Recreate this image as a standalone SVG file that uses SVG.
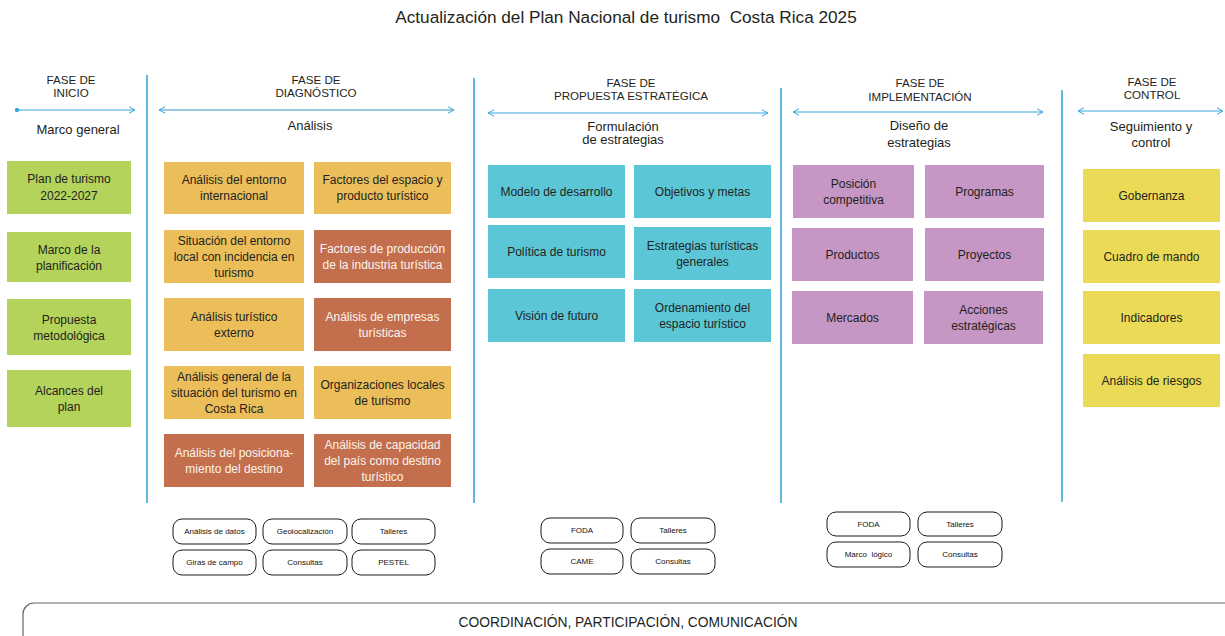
<svg xmlns="http://www.w3.org/2000/svg" width="1225" height="636" viewBox="0 0 1225 636">
<defs>
<marker id="chev" viewBox="0 0 8 8" refX="7" refY="4" markerWidth="8" markerHeight="8" markerUnits="userSpaceOnUse" orient="auto-start-reverse">
<path d="M1,0.8 L7,4 L1,7.2" fill="none" stroke="#3aa6dc" stroke-width="1"/>
</marker>
<marker id="dot" viewBox="0 0 6 6" refX="3" refY="3" markerWidth="5" markerHeight="5" markerUnits="userSpaceOnUse">
<circle cx="3" cy="3" r="2.6" fill="#3aa6dc"/>
</marker>
</defs>
<style>
text{font-family:"Liberation Sans",Arial,sans-serif;fill:#231f20;text-anchor:middle}
.title{font-size:17.2px}
.head{font-size:11.6px}
.sub{font-size:13px}
.bx{font-size:12px}
.wt{fill:#fbf5ee}
.green{fill:#b3d35a}
.ochre{fill:#ebbe5a}
.brown{fill:#c36e4c}
.cyan{fill:#5bc7d6}
.purple{fill:#c696c4}
.yellow{fill:#ebda55}
.pill{fill:#fff;stroke:#1a1a1a;stroke-width:1}
.pt{font-size:8px;fill:#111}
.vline{stroke:#3aa6dc;stroke-width:1.6}
.harr{stroke:#3aa6dc;stroke-width:1;fill:none}
.bar{fill:none;stroke:#666;stroke-width:1.2}
.bt{font-size:13.8px}
</style>
<rect width="1225" height="636" fill="#fff"/>
<text class="title" x="626" y="23" xml:space="preserve">Actualización del Plan Nacional de turismo  Costa Rica 2025</text>

<g id="headings">
<text class="head" x="71" y="84">FASE DE</text>
<text class="head" x="71" y="97">INICIO</text>
<text class="sub" x="78" y="134">Marco general</text>
<text class="head" x="316" y="84">FASE DE</text>
<text class="head" x="316" y="97">DIAGNÓSTICO</text>
<text class="sub" x="310" y="130">Análisis</text>
<text class="head" x="631" y="87">FASE DE</text>
<text class="head" x="631" y="100">PROPUESTA ESTRATÉGICA</text>
<text class="sub" x="623" y="131">Formulación</text>
<text class="sub" x="623" y="144">de estrategias</text>
<text class="head" x="920" y="87">FASE DE</text>
<text class="head" x="920" y="101">IMPLEMENTACIÓN</text>
<text class="sub" x="919" y="130">Diseño de</text>
<text class="sub" x="919" y="147">estrategias</text>
<text class="head" x="1152" y="86">FASE DE</text>
<text class="head" x="1152" y="99">CONTROL</text>
<text class="sub" x="1151" y="131">Seguimiento y</text>
<text class="sub" x="1151" y="147">control</text>
</g>

<g id="connectors">
<line class="vline" x1="147" y1="75" x2="147" y2="503"/>
<line class="vline" x1="474" y1="78" x2="474" y2="503"/>
<line class="vline" x1="781" y1="88" x2="781" y2="503"/>
<line class="vline" x1="1062" y1="90" x2="1062" y2="502"/>
<line class="harr" x1="17" y1="110" x2="135" y2="110" marker-start="url(#dot)" marker-end="url(#chev)"/>
<line class="harr" x1="159" y1="110" x2="454" y2="110" stroke-width="1.8" style="stroke:#3b8fc4" marker-start="url(#chev)" marker-end="url(#chev)"/>
<line class="harr" x1="488" y1="113" x2="768" y2="113" marker-start="url(#chev)" marker-end="url(#chev)"/>
<line class="harr" x1="793" y1="112" x2="1043" y2="112" marker-start="url(#chev)" marker-end="url(#chev)"/>
<line class="harr" x1="1078" y1="111" x2="1223" y2="111" marker-start="url(#chev)" marker-end="url(#chev)"/>
</g>

<g id="inicio">
<g id="n-plan"><rect class="green" x="7" y="161" width="124" height="53"/><text class="bx" x="69" y="183">Plan de turismo</text><text class="bx" x="69" y="200">2022-2027</text></g>
<g id="n-marco"><rect class="green" x="7" y="232" width="124" height="50"/><text class="bx" x="69" y="253.5">Marco de la</text><text class="bx" x="69" y="269.5">planificación</text></g>
<g id="n-propuesta"><rect class="green" x="7" y="299" width="124" height="56"/><text class="bx" x="69" y="323.5">Propuesta</text><text class="bx" x="69" y="339.5">metodológica</text></g>
<g id="n-alcances"><rect class="green" x="7" y="370" width="124" height="57"/><text class="bx" x="69" y="394.5">Alcances del</text><text class="bx" x="69" y="410.5">plan</text></g>
</g>

<g id="diagnostico">
<g id="n-d1"><rect class="ochre" x="164" y="162" width="140" height="52"/><text class="bx" x="234" y="184">Análisis del entorno</text><text class="bx" x="234" y="200">internacional</text></g>
<g id="n-d2"><rect class="ochre" x="314" y="162" width="137" height="52"/><text class="bx" x="382.5" y="184">Factores del espacio y</text><text class="bx" x="382.5" y="200">producto turístico</text></g>
<g id="n-d3"><rect class="ochre" x="164" y="230" width="140" height="53"/><text class="bx" x="234" y="245">Situación del entorno</text><text class="bx" x="234" y="261">local con incidencia en</text><text class="bx" x="234" y="277">turismo</text></g>
<g id="n-d4"><rect class="brown" x="314" y="230" width="137" height="53"/><text class="bx wt" x="382.5" y="252.5">Factores de producción</text><text class="bx wt" x="382.5" y="268.5">de la industria turística</text></g>
<g id="n-d5"><rect class="ochre" x="164" y="298" width="140" height="53"/><text class="bx" x="234" y="320.5">Análisis turístico</text><text class="bx" x="234" y="336.5">externo</text></g>
<g id="n-d6"><rect class="brown" x="314" y="298" width="137" height="53"/><text class="bx wt" x="382.5" y="320.5">Análisis de empresas</text><text class="bx wt" x="382.5" y="336.5">turísticas</text></g>
<g id="n-d7"><rect class="ochre" x="164" y="366" width="140" height="53"/><text class="bx" x="234" y="381">Análisis general de la</text><text class="bx" x="234" y="397">situación del turismo en</text><text class="bx" x="234" y="413">Costa Rica</text></g>
<g id="n-d8"><rect class="ochre" x="314" y="366" width="137" height="53"/><text class="bx" x="382.5" y="388.5">Organizaciones locales</text><text class="bx" x="382.5" y="404.5">de turismo</text></g>
<g id="n-d9"><rect class="brown" x="164" y="434" width="140" height="53"/><text class="bx wt" x="234" y="456.5">Análisis del posiciona-</text><text class="bx wt" x="234" y="472.5">miento del destino</text></g>
<g id="n-d10"><rect class="brown" x="314" y="434" width="137" height="53"/><text class="bx wt" x="382.5" y="449">Análisis de capacidad</text><text class="bx wt" x="382.5" y="465">del país como destino</text><text class="bx wt" x="382.5" y="481">turístico</text></g>
</g>

<g id="propuesta">
<g id="n-p1"><rect class="cyan" x="488" y="165" width="137" height="53"/><text class="bx" x="556.5" y="196">Modelo de desarrollo</text></g>
<g id="n-p2"><rect class="cyan" x="634" y="165" width="137" height="53"/><text class="bx" x="702.5" y="196">Objetivos y metas</text></g>
<g id="n-p3"><rect class="cyan" x="488" y="225" width="137" height="53"/><text class="bx" x="556.5" y="256">Política de turismo</text></g>
<g id="n-p4"><rect class="cyan" x="634" y="227" width="137" height="53"/><text class="bx" x="702.5" y="249.5">Estrategias turísticas</text><text class="bx" x="702.5" y="265.5">generales</text></g>
<g id="n-p5"><rect class="cyan" x="488" y="289" width="137" height="53"/><text class="bx" x="556.5" y="320">Visión de futuro</text></g>
<g id="n-p6"><rect class="cyan" x="634" y="289" width="137" height="53"/><text class="bx" x="702.5" y="311.5">Ordenamiento del</text><text class="bx" x="702.5" y="327.5">espacio turístico</text></g>
</g>

<g id="implementacion">
<g id="n-i1"><rect class="purple" x="793" y="165" width="121" height="53"/><text class="bx" x="853.5" y="187.5">Posición</text><text class="bx" x="853.5" y="203.5">competitiva</text></g>
<g id="n-i2"><rect class="purple" x="925" y="165" width="119" height="53"/><text class="bx" x="984.5" y="196">Programas</text></g>
<g id="n-i3"><rect class="purple" x="792" y="228" width="121" height="53"/><text class="bx" x="852.5" y="259">Productos</text></g>
<g id="n-i4"><rect class="purple" x="925" y="228" width="119" height="53"/><text class="bx" x="984.5" y="259">Proyectos</text></g>
<g id="n-i5"><rect class="purple" x="792" y="291" width="121" height="53"/><text class="bx" x="852.5" y="322">Mercados</text></g>
<g id="n-i6"><rect class="purple" x="924" y="291" width="119" height="53"/><text class="bx" x="983.5" y="313.5">Acciones</text><text class="bx" x="983.5" y="329.5">estratégicas</text></g>
</g>

<g id="control">
<g id="n-c1"><rect class="yellow" x="1083" y="169" width="137" height="53"/><text class="bx" x="1151.5" y="200">Gobernanza</text></g>
<g id="n-c2"><rect class="yellow" x="1083" y="230" width="137" height="53"/><text class="bx" x="1151.5" y="261">Cuadro de mando</text></g>
<g id="n-c3"><rect class="yellow" x="1083" y="291" width="137" height="53"/><text class="bx" x="1151.5" y="322">Indicadores</text></g>
<g id="n-c4"><rect class="yellow" x="1083" y="354" width="137" height="53"/><text class="bx" x="1151.5" y="385">Análisis de riesgos</text></g>
</g>

<g id="herramientas-diagnostico">
<g id="t-d1"><rect class="pill" x="173" y="519" width="83" height="25" rx="9"/><text class="pt" x="214.5" y="534.4">Análisis de datos</text></g>
<g id="t-d2"><rect class="pill" x="263" y="519" width="84" height="25" rx="9"/><text class="pt" x="305" y="534.4">Geolocalización</text></g>
<g id="t-d3"><rect class="pill" x="352" y="519" width="83" height="25" rx="9"/><text class="pt" x="393.5" y="534.4">Talleres</text></g>
<g id="t-d4"><rect class="pill" x="173" y="550" width="83" height="25" rx="9"/><text class="pt" x="214.5" y="565.4">Giras de campo</text></g>
<g id="t-d5"><rect class="pill" x="263" y="550" width="84" height="25" rx="9"/><text class="pt" x="305" y="565.4">Consultas</text></g>
<g id="t-d6"><rect class="pill" x="352" y="550" width="83" height="25" rx="9"/><text class="pt" x="393.5" y="565.4">PESTEL</text></g>
</g>

<g id="herramientas-propuesta">
<g id="t-p1"><rect class="pill" x="541" y="518" width="82" height="25" rx="9"/><text class="pt" x="582" y="533.4">FODA</text></g>
<g id="t-p2"><rect class="pill" x="631" y="518" width="84" height="25" rx="9"/><text class="pt" x="673" y="533.4">Talleres</text></g>
<g id="t-p3"><rect class="pill" x="541" y="549" width="82" height="25" rx="9"/><text class="pt" x="582" y="564.4">CAME</text></g>
<g id="t-p4"><rect class="pill" x="631" y="549" width="84" height="25" rx="9"/><text class="pt" x="673" y="564.4">Consultas</text></g>
</g>

<g id="herramientas-implementacion">
<g id="t-i1"><rect class="pill" x="827" y="512" width="83" height="24" rx="9"/><text class="pt" x="868.5" y="526.9">FODA</text></g>
<g id="t-i2"><rect class="pill" x="918" y="512" width="84" height="24" rx="9"/><text class="pt" x="960" y="526.9">Talleres</text></g>
<g id="t-i3"><rect class="pill" x="827" y="542" width="83" height="25" rx="9"/><text class="pt" x="868.5" y="557.4" xml:space="preserve">Marco  lógico</text></g>
<g id="t-i4"><rect class="pill" x="918" y="542" width="84" height="25" rx="9"/><text class="pt" x="960" y="557.4">Consultas</text></g>
</g>

<g id="coordinacion">
<rect class="bar" x="23" y="603" width="1240" height="60" rx="11"/>
<text class="bt" x="628" y="627">COORDINACIÓN, PARTICIPACIÓN, COMUNICACIÓN</text>
</g>
</svg>
